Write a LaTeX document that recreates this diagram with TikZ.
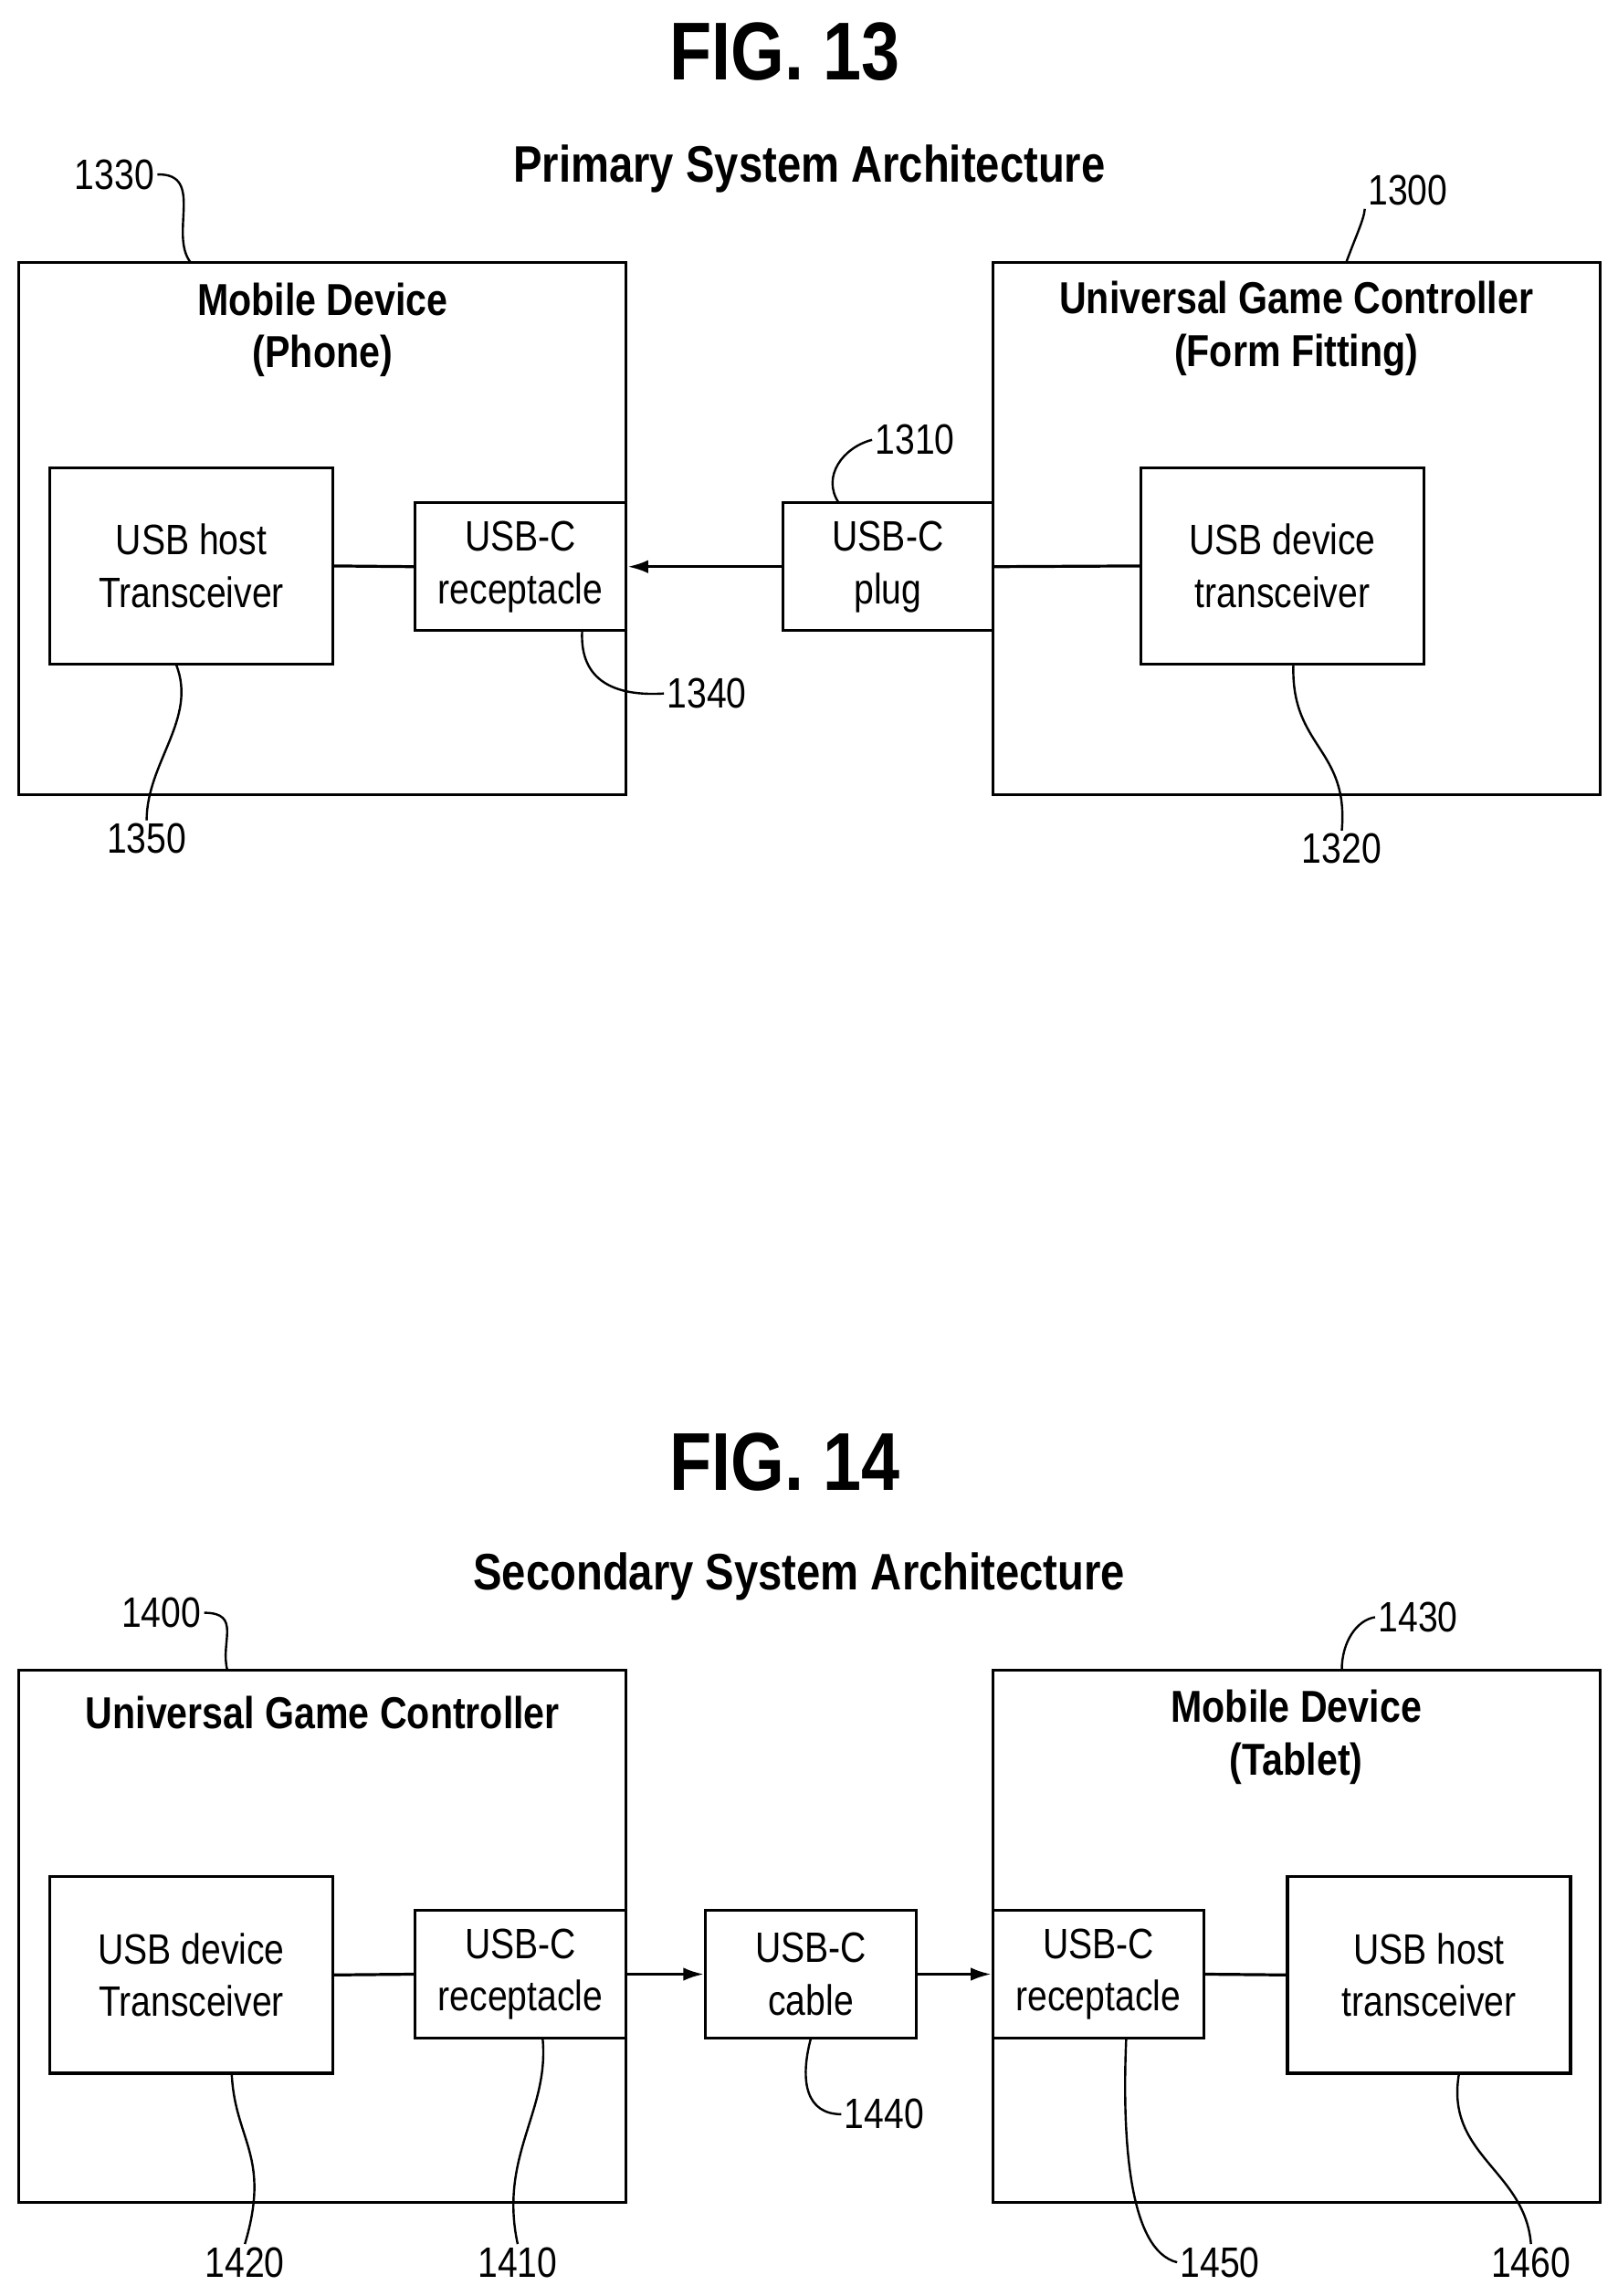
\documentclass[tikz,border=0pt]{standalone}
\usepackage{fontspec}
\setmainfont{Liberation Sans}[FakeStretch=0.84]
\usetikzlibrary{arrows.meta}
\begin{document}
\begin{tikzpicture}[x=1pt,y=-1pt,
  box/.style={draw,line width=2pt},
  txt/.style={font=\fontsize{29}{36}\selectfont,align=center},
  ttl/.style={font=\bfseries\fontsize{30.5}{36}\selectfont,align=center},
  sub/.style={font=\bfseries\fontsize{35}{40}\selectfont},
  fig/.style={font=\bfseries\fontsize{56}{60}\selectfont},
  num/.style={font=\fontsize{29}{34}\selectfont,inner sep=2pt},
  ln/.style={line width=2pt},
  arr/.style={line width=2pt,-{Latex[length=14pt,width=9pt]}},
  ld/.style={line width=1.5pt}]
\useasboundingbox (0,0) rectangle (1103,1566);
% FIG 13
\node[fig] (f13) at (535,35) {FIG. 13};
\node[sub] (t13) at (552,115) {Primary System Architecture};
\draw[box] (13,179) rectangle (427,542);
\node[ttl] (mdt) at (220,225) {Mobile Device\\(Phone)};
\node[box,txt,minimum width=193pt,minimum height=134pt,inner sep=0] (host) at (130.5,386) {USB host\\Transceiver};
\node[box,txt,minimum width=144pt,minimum height=87pt,inner sep=0] (rec) at (355,386.5) {USB-C\\receptacle};
\node[box,txt,minimum width=143pt,minimum height=87pt,inner sep=0] (plug) at (605.5,386.5) {USB-C\\plug};
\draw[box] (677,179) rectangle (1091,542);
\node[ttl] (ugct) at (884,224) {Universal Game Controller\\(Form Fitting)};
\node[box,txt,minimum width=193pt,minimum height=134pt,inner sep=0] (dev) at (874.5,386) {USB device\\transceiver};
\draw[ln] (host.east) -- (rec.west);
\draw[arr] (plug.west) -- (rec.east);
\draw[ln] (plug.east) -- (dev.west);
\node[num] (n1330) at (78,119) {1330};
\draw[ld] (n1330.east) .. controls (140,118) and (115,160) .. (130,179);
\node[num] (n1300) at (960,130) {1300};
\draw[ld] (n1300.south west) .. controls (930,150) and (925,160) .. (918,179);
\node[num] (n1310) at (624,300) {1310};
\draw[ld] (n1310.west) .. controls (575,305) and (560,325) .. (572,343);
\node[num] (n1340) at (482,473) {1340};
\draw[ld] (397,430) .. controls (395,465) and (420,475) .. (n1340.west);
\node[num] (n1350) at (100,572) {1350};
\draw[ld] (120,453) .. controls (135,490) and (100,520) .. (n1350.north);
\node[num] (n1320) at (915,579) {1320};
\draw[ld] (882,453) .. controls (880,510) and (920,510) .. (n1320.north);
% FIG 14
\node[fig] (f14) at (535,997) {FIG. 14};
\node[sub] (t14) at (545,1075) {Secondary System Architecture};
\draw[box] (13,1139) rectangle (427,1502);
\node[ttl] (ugc2) at (220,1168) {Universal Game Controller};
\node[box,txt,minimum width=193pt,minimum height=134pt,inner sep=0] (dev2) at (130.5,1347) {USB device\\Transceiver};
\node[box,txt,minimum width=144pt,minimum height=87pt,inner sep=0] (rec2) at (355,1346.5) {USB-C\\receptacle};
\node[box,txt,minimum width=144pt,minimum height=87pt,inner sep=0] (cab) at (553,1346.5) {USB-C\\cable};
\draw[box] (677,1139) rectangle (1091,1502);
\node[ttl] (tab) at (884,1185) {Mobile Device\\(Tablet)};
\node[box,txt,minimum width=144pt,minimum height=87pt,inner sep=0] (rec3) at (749,1346.5) {USB-C\\receptacle};
\node[box,txt,minimum width=193pt,minimum height=134pt,inner sep=0] (host2) at (974.5,1347) {USB host\\transceiver};
\draw[ln] (dev2.east) -- (rec2.west);
\draw[arr] (rec2.east) -- (cab.west);
\draw[arr] (cab.east) -- (rec3.west);
\draw[ln] (rec3.east) -- (host2.west);
\node[num] (n1400) at (110,1100) {1400};
\draw[ld] (n1400.east) .. controls (165,1100) and (150,1120) .. (155,1139);
\node[num] (n1430) at (967,1103) {1430};
\draw[ld] (n1430.west) .. controls (925,1105) and (915,1120) .. (915,1139);
\node[num] (n1440) at (603,1442) {1440};
\draw[ld] (553,1390) .. controls (545,1420) and (550,1442) .. (n1440.west);
\node[num] (n1420) at (167,1543) {1420};
\draw[ld] (158,1414) .. controls (160,1460) and (185,1470) .. (n1420.north);
\node[num] (n1410) at (353,1543) {1410};
\draw[ld] (370,1390) .. controls (375,1440) and (340,1470) .. (n1410.north);
\node[num] (n1450) at (832,1543) {1450};
\draw[ld] (768,1390) .. controls (765,1460) and (770,1535) .. (n1450.west);
\node[num] (n1460) at (1044,1543) {1460};
\draw[ld] (995,1414) .. controls (985,1470) and (1040,1480) .. (n1460.north);
\end{tikzpicture}
\end{document}
